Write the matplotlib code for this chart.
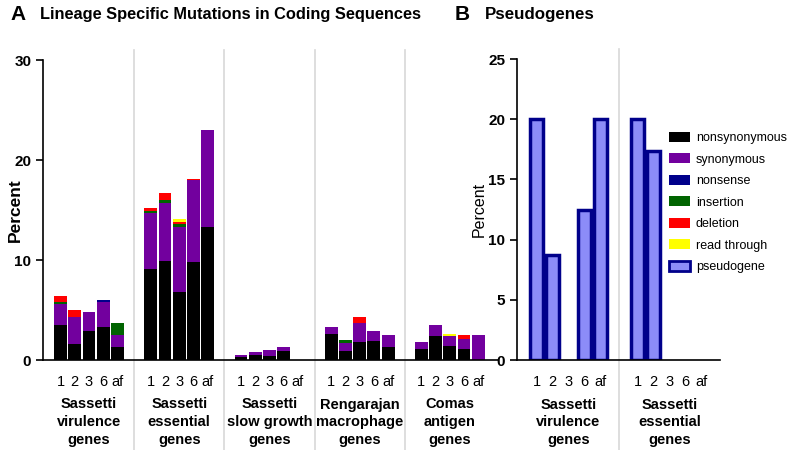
import numpy as np
import matplotlib
matplotlib.use('Agg')
import matplotlib.pyplot as plt
from matplotlib.patches import Patch


plt.rcParams['font.family'] = ['Liberation Sans', 'DejaVu Sans']

lineages = ['1', '2', '3', '6', 'af']
groups_a = ['Sassetti\nvirulence\ngenes', 'Sassetti\nessential\ngenes',
            'Sassetti\nslow growth\ngenes', 'Rengarajan\nmacrophage\ngenes',
            'Comas\nantigen\ngenes']
groups_b = ['Sassetti\nvirulence\ngenes', 'Sassetti\nessential\ngenes']

# percent per lineage, five lineages per gene set
nonsyn = [3.5, 1.6, 2.9, 3.3, 1.3,
          9.1, 9.9, 6.8, 9.8, 13.3,
          0.27, 0.5, 0.43, 0.93, 0,
          2.6, 0.9, 1.8, 1.9, 1.3,
          1.15, 2.4, 1.4, 1.15, 0]
syn = [2.1, 2.7, 1.9, 2.5, 1.2,
       5.6, 5.8, 6.5, 8.2, 9.7,
       0.23, 0.33, 0.57, 0.4, 0,
       0.67, 0.77, 1.9, 1.0, 1.2,
       0.65, 1.1, 1.0, 0.95, 2.5]
nonsense = [0, 0, 0, 0.2, 0,
            0, 0, 0, 0, 0,
            0, 0, 0, 0, 0,
            0, 0, 0, 0, 0,
            0, 0, 0, 0, 0]
insertion = [0.25, 0, 0, 0, 1.2,
             0.25, 0.3, 0.3, 0, 0,
             0, 0, 0, 0, 0,
             0, 0.33, 0, 0, 0,
             0, 0, 0, 0, 0]
deletion = [0.55, 0.7, 0, 0, 0,
            0.3, 0.7, 0.2, 0.15, 0,
            0, 0, 0, 0, 0,
            0, 0, 0.65, 0, 0,
            0, 0, 0, 0.4, 0]
readthrough = [0, 0, 0, 0, 0,
               0, 0, 0.35, 0, 0,
               0, 0, 0, 0, 0,
               0, 0, 0, 0, 0,
               0, 0, 0.25, 0, 0]
pseudo = [20, 8.7, 0, 12.5, 20,
          20, 17.4, 0, 0, 0]

series = [('nonsynonymous', nonsyn, 'black'),
          ('synonymous', syn, '#72009e'),
          ('nonsense', nonsense, '#00008b'),
          ('insertion', insertion, '#006400'),
          ('deletion', deletion, '#ff0000'),
          ('read through', readthrough, '#ffff00')]
pseudo_face = '#8c8cf8'
pseudo_edge = '#00008b'
sep_color = '#d8d8d8'
step = 6.33


def positions(n_groups):
    return np.array([g*step + i for g in range(n_groups) for i in range(5)])


def style_axis(ax, groups, x):
    ax.spines['top'].set_visible(False)
    ax.spines['right'].set_visible(False)
    ax.spines['left'].set_linewidth(1.2)
    ax.spines['bottom'].set_linewidth(1.2)
    ax.set_xticks(x)
    ax.set_xticklabels(lineages * len(groups), fontsize=10.5)
    ax.tick_params(axis='x', length=0, pad=11)
    ax.tick_params(axis='y', length=5, width=1.2, labelsize=11)
    for lab in ax.get_yticklabels():
        lab.set_fontweight('bold')
    for g, name in enumerate(groups):
        ax.text(g*step + 2, -0.125, name, transform=ax.get_xaxis_transform(),
                ha='center', va='top', fontsize=10.5, fontweight='bold', linespacing=1.35)
    for g in range(1, len(groups)):
        ax.axvline(g*step - (step - 4)/2, ymin=-0.3, ymax=1.033, clip_on=False,
                   color=sep_color, linewidth=1.2)


fig = plt.figure(figsize=(7.9, 4.5), dpi=100)

# panel A
ax1 = fig.add_axes([43/790, 0.2, 455/790, 300/450])
xa = positions(len(groups_a))
bottom = np.zeros(len(xa))
for name, vals, col in series:
    vals = np.array(vals)
    ax1.bar(xa, vals, width=0.9, bottom=bottom, color=col, edgecolor='none', label=name)
    bottom += vals
ax1.set_xlim(-1.23, 30.7)
ax1.set_ylim(0, 30)
ax1.set_yticks([0, 10, 20, 30])
ax1.set_ylabel('Percent', fontsize=12.5, fontweight='bold')
ax1.yaxis.set_label_coords(-(43 - 23)/455, 0.5)
style_axis(ax1, groups_a, xa)

# panel B
ax2 = fig.add_axes([517/790, 0.2, 203/790, 301/450])
xb = positions(len(groups_b))
edges = [pseudo_edge if v > 0 else 'none' for v in pseudo]
ax2.bar(xb, pseudo, width=0.8, color=pseudo_face, edgecolor=edges, linewidth=2.5)
ax2.set_xlim(-1.22, 11.47)
ax2.set_ylim(0, 25)
ax2.set_yticks([0, 5, 10, 15, 20, 25])
ax2.set_ylabel('Percent', fontsize=11.5)
ax2.yaxis.set_label_coords(-(517 - 487)/203, 0.5)
style_axis(ax2, groups_b, xb)

fig.text(10/790, 1 - 14/450, 'A', fontsize=15, fontweight='bold', va='center')
fig.text(40/790, 1 - 14/450, 'Lineage Specific Mutations in Coding Sequences',
         fontsize=11.8, fontweight='bold', va='center')
fig.text(455/790, 1 - 14/450, 'B', fontsize=15, fontweight='bold', va='center')
fig.text(485/790, 1 - 14/450, 'Pseudogenes', fontsize=12.2, fontweight='bold', va='center')

handles = [Patch(facecolor=col, edgecolor='none', label=name) for name, vals, col in series]
handles.append(Patch(facecolor=pseudo_face, edgecolor=pseudo_edge, linewidth=2, label='pseudogene'))
fig.legend(handles=handles, loc='upper left', bbox_to_anchor=(664/790, 1 - 127/450),
           frameon=False, fontsize=9, handlelength=1.7, handleheight=0.8,
           labelspacing=0.75, handletextpad=0.45, borderaxespad=0)

fig.savefig('out.png', dpi=100)
